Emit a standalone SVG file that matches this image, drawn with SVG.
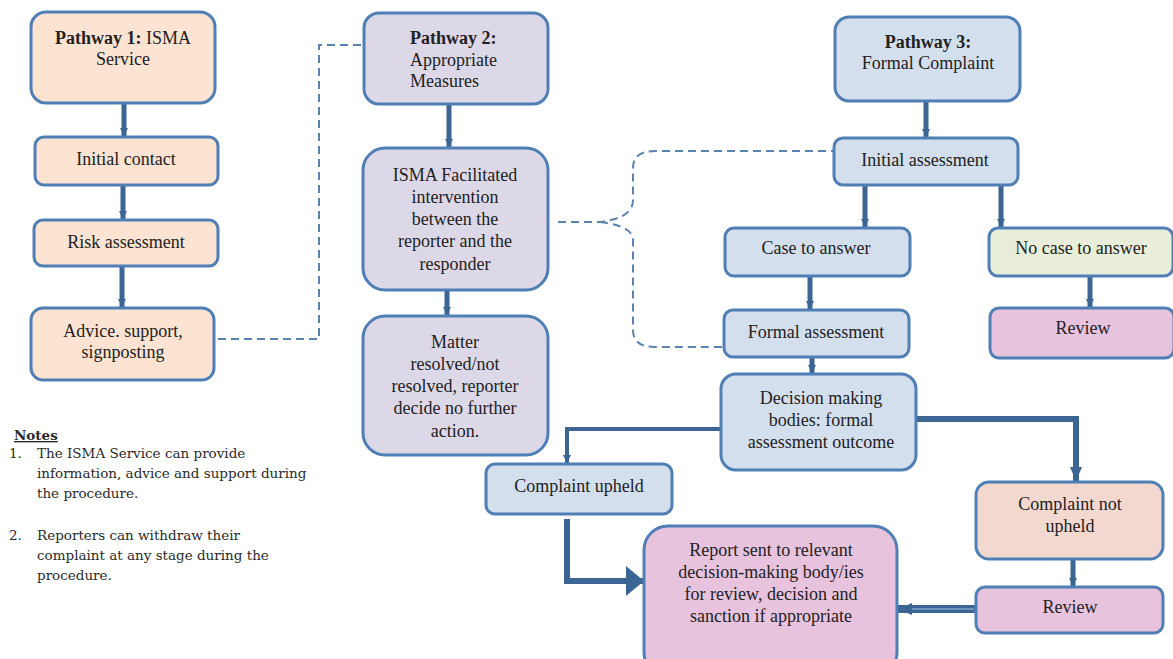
<svg xmlns="http://www.w3.org/2000/svg" width="1173" height="659" viewBox="0 0 1173 659">
<style>
.box{stroke:#4f7fb5;stroke-width:3}
.peach{fill:#fce3d2}
.lav{fill:#ddd8e7}
.blue{fill:#d3dfed}
.green{fill:#e8eed9}
.pink{fill:#e8c3de}
.salmon{fill:#f3d8d0}
.t{font-family:"Liberation Serif","Times New Roman",serif;font-size:18px;fill:#222;text-anchor:middle}
.l{text-anchor:start}
.b{font-weight:bold}
.conn{stroke:#3b6593;fill:none}
.dash{stroke:#5a83b0;stroke-width:2;fill:none;stroke-dasharray:8 5}
.note{font-family:"DejaVu Serif","Liberation Serif",serif;font-size:13.5px;fill:#2a2a2a}
</style>
<defs>
<marker id="ah" markerUnits="userSpaceOnUse" markerWidth="12" markerHeight="10" refX="8" refY="5" orient="auto">
<path d="M0,1 L8,5 L0,9 Z" fill="#3b6593"/>
</marker>
<marker id="ah2" markerUnits="userSpaceOnUse" markerWidth="18" markerHeight="14" refX="14" refY="7" orient="auto">
<path d="M0,1 L14,7 L0,13 Z" fill="#3b6593"/>
</marker>
<marker id="ah3" markerUnits="userSpaceOnUse" markerWidth="20" markerHeight="32" refX="18" refY="16" orient="auto">
<path d="M0,1 L18,16 L0,31 Z" fill="#3b6593"/>
</marker>
</defs>

<g id="connectors">
<line class="conn" x1="124" y1="104" x2="124" y2="136" stroke-width="5" marker-end="url(#ah)"/>
<line class="conn" x1="123" y1="186" x2="123" y2="219" stroke-width="5" marker-end="url(#ah)"/>
<line class="conn" x1="122" y1="267" x2="122" y2="307" stroke-width="5" marker-end="url(#ah)"/>
<path class="dash" d="M218,339 L319,339 L319,45 L364,45"/>
<line class="conn" x1="449" y1="105" x2="449" y2="147" stroke-width="5" marker-end="url(#ah)"/>
<line class="conn" x1="447" y1="291" x2="447" y2="315" stroke-width="5" marker-end="url(#ah)"/>
<path class="dash" d="M558,222 L600,222 Q633,218 633,200 L633,168 Q633,151 655,151 L834,151"/>
<path class="dash" d="M600,222 Q633,226 633,240 L633,330 Q633,347 655,347 L724,347"/>
<line class="conn" x1="926" y1="102" x2="926" y2="137" stroke-width="5" marker-end="url(#ah)"/>
<line class="conn" x1="865" y1="186" x2="865" y2="227" stroke-width="5" marker-end="url(#ah)"/>
<line class="conn" x1="1001" y1="186" x2="1001" y2="227" stroke-width="5" marker-end="url(#ah)"/>
<line class="conn" x1="810" y1="277" x2="810" y2="309" stroke-width="5" marker-end="url(#ah)"/>
<line class="conn" x1="1090" y1="277" x2="1090" y2="307" stroke-width="5" marker-end="url(#ah)"/>
<line class="conn" x1="812" y1="358" x2="812" y2="373" stroke-width="5" marker-end="url(#ah)"/>
<path class="conn" d="M721,429 L567,429 L567,463" stroke-width="4" marker-end="url(#ah)"/>
<path class="conn" d="M916,419 L1076,419 L1076,481" stroke-width="6" marker-end="url(#ah2)"/>
<path class="conn" d="M567,519 L567,581 L644,581" stroke-width="6" marker-end="url(#ah3)"/>
<line class="conn" x1="1073" y1="560" x2="1073" y2="586" stroke-width="5" marker-end="url(#ah)"/>
<line class="conn" x1="976" y1="609" x2="898" y2="609" stroke-width="8" marker-end="url(#ah2)"/>
<line x1="974" y1="609" x2="912" y2="609" stroke="#6f93bd" stroke-width="2"/>
</g>

<g id="p1">
<rect class="box peach" x="31" y="12" width="184" height="91" rx="15"/>
<text class="t" x="123" y="44"><tspan class="b">Pathway 1:</tspan> ISMA</text>
<text class="t" x="123" y="65">Service</text>
</g>
<g id="initial-contact">
<rect class="box peach" x="35" y="137" width="183" height="48" rx="9"/>
<text class="t" x="126" y="165">Initial contact</text>
</g>
<g id="risk-assessment">
<rect class="box peach" x="34" y="220" width="184" height="46" rx="9"/>
<text class="t" x="126" y="248">Risk assessment</text>
</g>
<g id="advice">
<rect class="box peach" x="31" y="308" width="183" height="72" rx="12"/>
<text class="t" x="123" y="337">Advice. support,</text>
<text class="t" x="123" y="358">signposting</text>
</g>

<g id="p2">
<rect class="box lav" x="364" y="13" width="184" height="91" rx="15"/>
<text class="t l b" x="410" y="44">Pathway 2:</text>
<text class="t l" x="410" y="66">Appropriate</text>
<text class="t l" x="410" y="87">Measures</text>
</g>
<g id="isma-facilitated">
<rect class="box lav" x="363" y="148" width="185" height="142" rx="22"/>
<text class="t" x="455" y="181">ISMA Facilitated</text>
<text class="t" x="455" y="203">intervention</text>
<text class="t" x="455" y="225">between the</text>
<text class="t" x="455" y="247">reporter and the</text>
<text class="t" x="455" y="270">responder</text>
</g>
<g id="matter">
<rect class="box lav" x="363" y="316" width="185" height="139" rx="22"/>
<text class="t" x="455" y="348">Matter</text>
<text class="t" x="455" y="370">resolved/not</text>
<text class="t" x="455" y="392">resolved, reporter</text>
<text class="t" x="455" y="414">decide no further</text>
<text class="t" x="455" y="437">action.</text>
</g>

<g id="p3">
<rect class="box blue" x="835" y="17" width="185" height="84" rx="14"/>
<text class="t b" x="928" y="48">Pathway 3:</text>
<text class="t" x="928" y="69">Formal Complaint</text>
</g>
<g id="initial-assessment">
<rect class="box blue" x="834" y="138" width="184" height="47" rx="9"/>
<text class="t" x="925" y="166">Initial assessment</text>
</g>
<g id="case-to-answer">
<rect class="box blue" x="725" y="228" width="185" height="48" rx="9"/>
<text class="t" x="816" y="254">Case to answer</text>
</g>
<g id="no-case">
<rect class="box green" x="989" y="228" width="184" height="48" rx="9"/>
<text class="t" x="1081" y="254">No case to answer</text>
</g>
<g id="formal-assessment">
<rect class="box blue" x="724" y="310" width="185" height="47" rx="9"/>
<text class="t" x="816" y="338">Formal assessment</text>
</g>
<g id="review-1">
<rect class="box pink" x="990" y="308" width="184" height="50" rx="9"/>
<text class="t" x="1083" y="334">Review</text>
</g>
<g id="decision">
<rect class="box blue" x="721" y="374" width="195" height="96" rx="15"/>
<text class="t" x="821" y="404">Decision making</text>
<text class="t" x="821" y="426">bodies: formal</text>
<text class="t" x="821" y="448">assessment outcome</text>
</g>
<g id="upheld">
<rect class="box blue" x="486" y="464" width="186" height="50" rx="9"/>
<text class="t" x="579" y="492">Complaint upheld</text>
</g>
<g id="not-upheld">
<rect class="box salmon" x="976" y="482" width="187" height="77" rx="13"/>
<text class="t" x="1070" y="510">Complaint not</text>
<text class="t" x="1070" y="532">upheld</text>
</g>
<g id="review-2">
<rect class="box pink" x="976" y="587" width="187" height="46" rx="9"/>
<text class="t" x="1070" y="613">Review</text>
</g>
<g id="report">
<rect class="box pink" x="644" y="526" width="253" height="150" rx="24"/>
<text class="t" x="771" y="556">Report sent to relevant</text>
<text class="t" x="771" y="578">decision-making body/ies</text>
<text class="t" x="771" y="600">for review, decision and</text>
<text class="t" x="771" y="622">sanction if appropriate</text>
</g>

<g id="notes">
<text class="note" x="14" y="440" font-weight="bold" text-decoration="underline">Notes</text>
<text class="note" x="9" y="458">1.</text>
<text class="note" x="37" y="458">The ISMA Service can provide</text>
<text class="note" x="37" y="478">information, advice and support during</text>
<text class="note" x="37" y="498">the procedure.</text>
<text class="note" x="9" y="540">2.</text>
<text class="note" x="37" y="540">Reporters can withdraw their</text>
<text class="note" x="37" y="560">complaint at any stage during the</text>
<text class="note" x="37" y="580">procedure.</text>
</g>
</svg>
